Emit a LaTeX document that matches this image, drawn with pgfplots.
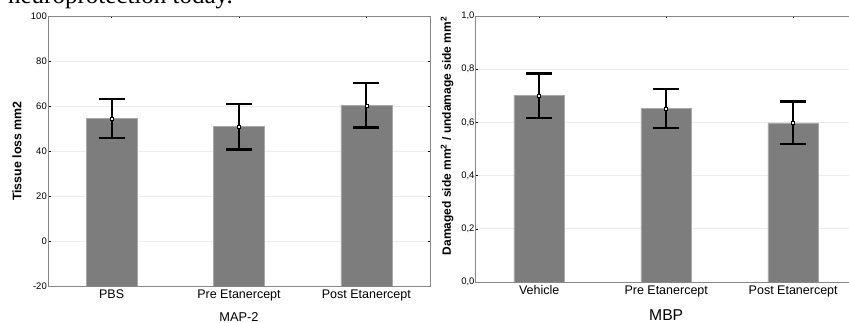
\documentclass[border=0pt]{standalone}
\usepackage{pgfplots}
\pgfplotsset{compat=1.18}
\usepackage{pgfplotstable}
\usepackage{fontspec}
\setmainfont{Liberation Sans}
\newfontfamily\seriffont{Liberation Serif}
\definecolor{barfill}{RGB}{125,125,125}
\definecolor{baredge}{RGB}{168,168,168}
\definecolor{framec}{RGB}{135,135,135}
\definecolor{gridc}{RGB}{236,236,236}

\pgfplotstableread{
x y e
0 54.5 8.7
1 50.8 10.1
2 60.3 9.9
}\mapdata
\pgfplotstableread{
x y e
0 0.700 0.084
1 0.652 0.074
2 0.598 0.080
}\mbpdata

\pgfplotsset{
  common/.style={
    scale only axis, xmin=-0.5, xmax=2.5, xtick={0,1,2},
    axis line style={framec, line width=0.8bp},
    tick style={black, line width=0.5bp}, major tick length=2.5bp,
    tick align=inside,
    ymajorgrids, grid style={gridc, line width=0.6bp},
    /pgf/number format/assume math mode=true,
    yticklabel style={font=\fontsize{9.5bp}{10bp}\selectfont, inner sep=1bp},
    xticklabel style={font=\fontsize{12.5bp}{13bp}\selectfont},
  },
  bars/.style={ybar, bar width=0.4, fill=barfill, draw=baredge, line width=0.6bp,
    error bars/.cd, y dir=both, y explicit,
    error bar style={black, line width=2.3bp},
    error mark options={rotate=90, black, mark size=13bp, line width=2.3bp}, /pgfplots/.cd},
  ctr/.style={only marks, mark=square*, mark size=1.5bp,
    mark options={fill=white, draw=black, line width=0.5bp}},
}

\begin{document}
\begin{tikzpicture}
\useasboundingbox (0,0) rectangle (849bp,323bp);
\clip (0,0) rectangle (849bp,323bp);
\node[anchor=base east, font=\seriffont\fontsize{25bp}{25bp}\selectfont, inner sep=0pt] at (233bp,319bp) {neuroprotection today.};

\begin{axis}[common, at={(48bp,37bp)}, anchor=south west, width=382bp, height=270bp,
  ymin=0, ymax=120, ytick={0,20,...,120}, yticklabels={-20,0,20,40,60,80,100},
  xticklabels={PBS,Pre Etanercept,Post Etanercept},
  ylabel={\bfseries Tissue loss mm2},
  ylabel style={at={(axis description cs:-0.081,0.5)}, anchor=center, font=\fontsize{12.4bp}{13bp}\selectfont},
  xlabel={MAP-2},
  xlabel style={at={(axis description cs:0.5,-0.115)}, anchor=center, font=\fontsize{12.8bp}{13bp}\selectfont},
]
\addplot[y filter/.expression={y+20}, bars] table[x=x, y=y, y error=e] {\mapdata};
\addplot[y filter/.expression={y+20}, ctr] table[x=x, y=y] {\mapdata};
\end{axis}

\begin{axis}[common, at={(475.7bp,41bp)}, anchor=south west, width=381bp, height=266bp,
  ymin=0, ymax=1, ytick={0,0.2,...,1.0},
  yticklabel style={/pgf/number format/.cd, fixed, fixed zerofill, precision=1, use comma},
  xticklabels={Vehicle,Pre Etanercept,Post Etanercept},
  ylabel={\bfseries Damaged side mm\textsuperscript{2} / undamage side mm\textsuperscript{2}},
  ylabel style={at={(axis description cs:-0.075,0.549)}, anchor=center, font=\fontsize{12bp}{13bp}\selectfont},
  xlabel={MBP},
  xlabel style={at={(axis description cs:0.5,-0.124)}, anchor=center, font=\fontsize{15.7bp}{16bp}\selectfont},
]
\addplot[bars] table[x=x, y=y, y error=e] {\mbpdata};
\addplot[ctr] table[x=x, y=y] {\mbpdata};
\end{axis}
\end{tikzpicture}
\end{document}
